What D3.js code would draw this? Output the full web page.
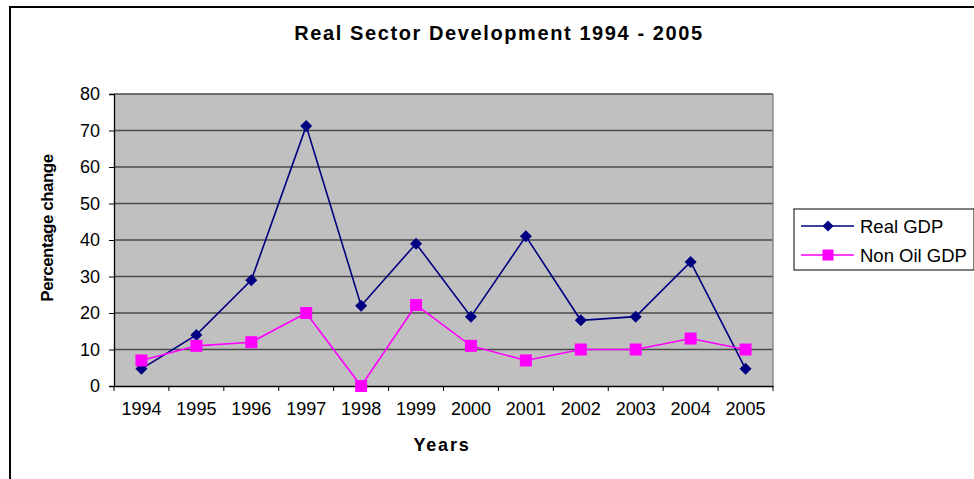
<!DOCTYPE html>
<html><head><meta charset="utf-8">
<script src="https://cdn.jsdelivr.net/npm/d3@7"></script>
<style>body{margin:0;background:#fff}svg{display:block;font-family:Arial,"Liberation Sans",sans-serif}</style>
</head><body><svg id="c" width="974" height="479"></svg>
<script>
const years = ["1994","1995","1996","1997","1998","1999","2000","2001","2002","2003","2004","2005"];
const realGDP = [4.7, 14, 29, 71.2, 22, 39, 19, 41, 18, 19, 34, 4.7];
const nonOilGDP = [7, 11, 12, 20, 0, 22.2, 11, 7, 10, 10, 13, 10];
const yTicks = [0,10,20,30,40,50,60,70,80];
const seriesNames = ["Real GDP","Non Oil GDP"];

const svg = d3.select("#c");
svg.append("rect").attr("x",10).attr("y",7).attr("width",1000).attr("height",500)
  .attr("fill","none").attr("stroke","#000").attr("stroke-width",2);

const L=114, R=773, T=94, B=386;
const x = d3.scaleBand().domain(years).range([L,R]).padding(0);
const y = d3.scaleLinear().domain([0,80]).range([B,T]);

svg.append("rect").attr("x",L).attr("y",T).attr("width",R-L).attr("height",B-T).attr("fill","#c0c0c0");
svg.append("g").selectAll("line").data(yTicks.filter(d=>d>0)).join("line")
  .attr("x1",L).attr("x2",R).attr("y1",d=>y(d)).attr("y2",d=>y(d))
  .attr("stroke","#4a4a4a").attr("stroke-width",1.3);
svg.append("line").attr("x1",R).attr("x2",R).attr("y1",T).attr("y2",B).attr("stroke","#808080").attr("stroke-width",1.3);

const ya = svg.append("g").attr("transform",`translate(${L},0)`)
  .call(d3.axisLeft(y).tickValues(yTicks).tickSize(5).tickPadding(9).tickFormat(d3.format("d")));
ya.select(".domain").attr("stroke","#000").attr("stroke-width",1.3);
ya.selectAll(".tick line").attr("stroke","#000");
ya.selectAll("text").attr("font-size",18).attr("fill","#000").attr("font-family","Arial,'Liberation Sans',sans-serif");

const xa = svg.append("g").attr("transform",`translate(0,${B})`)
  .call(d3.axisBottom(x).tickSize(0).tickPadding(16));
xa.select(".domain").attr("stroke","#000").attr("stroke-width",1.3);
xa.selectAll("text").attr("font-size",18).attr("fill","#000").attr("font-family","Arial,'Liberation Sans',sans-serif");
svg.append("g").selectAll("line").data(years.concat(["end"])).join("line")
  .attr("x1",(d,i)=>L+i*x.bandwidth()).attr("x2",(d,i)=>L+i*x.bandwidth())
  .attr("y1",B).attr("y2",B+5).attr("stroke","#000");

const cx = d=>x(d)+x.bandwidth()/2;
const line = d3.line().x((d,i)=>cx(years[i])).y(d=>y(d));

svg.append("path").datum(realGDP).attr("d",line).attr("fill","none").attr("stroke","#000080").attr("stroke-width",1.6);
svg.append("path").datum(nonOilGDP).attr("d",line).attr("fill","none").attr("stroke","#ff00ff").attr("stroke-width",1.6);

svg.append("g").selectAll("path").data(realGDP).join("path")
  .attr("d",d3.symbol().type(d3.symbolSquare).size(72)())
  .attr("transform",(d,i)=>`translate(${cx(years[i])},${y(d)}) rotate(45)`)
  .attr("fill","#000080");
svg.append("g").selectAll("rect").data(nonOilGDP).join("rect")
  .attr("x",(d,i)=>cx(years[i])-6).attr("y",d=>y(d)-6).attr("width",12).attr("height",12)
  .attr("fill","#ff00ff");

svg.append("text").attr("x",499).attr("y",40).attr("text-anchor","middle")
  .attr("font-size",20).attr("font-weight","bold").attr("letter-spacing",1.6)
  .text("Real Sector Development 1994 - 2005");
svg.append("text").attr("x",442).attr("y",451).attr("text-anchor","middle")
  .attr("font-size",18).attr("font-weight","bold").attr("letter-spacing",1.8).text("Years");
svg.append("text").attr("transform","translate(53,228) rotate(-90)").attr("text-anchor","middle")
  .attr("font-size",17).attr("font-weight","bold").attr("letter-spacing",-0.5).text("Percentage change");

const lg = svg.append("g");
lg.append("rect").attr("x",794).attr("y",209).attr("width",180).attr("height",61)
  .attr("fill","#fff").attr("stroke","#000").attr("stroke-width",1);
const colors = ["#000080","#ff00ff"];
seriesNames.forEach((n,i)=>{
  const yy = 226 + i*29;
  lg.append("line").attr("x1",801).attr("x2",854).attr("y1",yy).attr("y2",yy).attr("stroke",colors[i]).attr("stroke-width",1.6);
  if(i===0){
    lg.append("path").attr("d",d3.symbol().type(d3.symbolSquare).size(60)()).attr("transform",`translate(828,${yy}) rotate(45)`).attr("fill",colors[i]);
  } else {
    lg.append("rect").attr("x",822.5).attr("y",yy-5.5).attr("width",11).attr("height",11).attr("fill",colors[i]);
  }
  lg.append("text").attr("x",860).attr("y",yy+6.5).attr("font-size",18.5).text(n);
});
</script></body></html>
